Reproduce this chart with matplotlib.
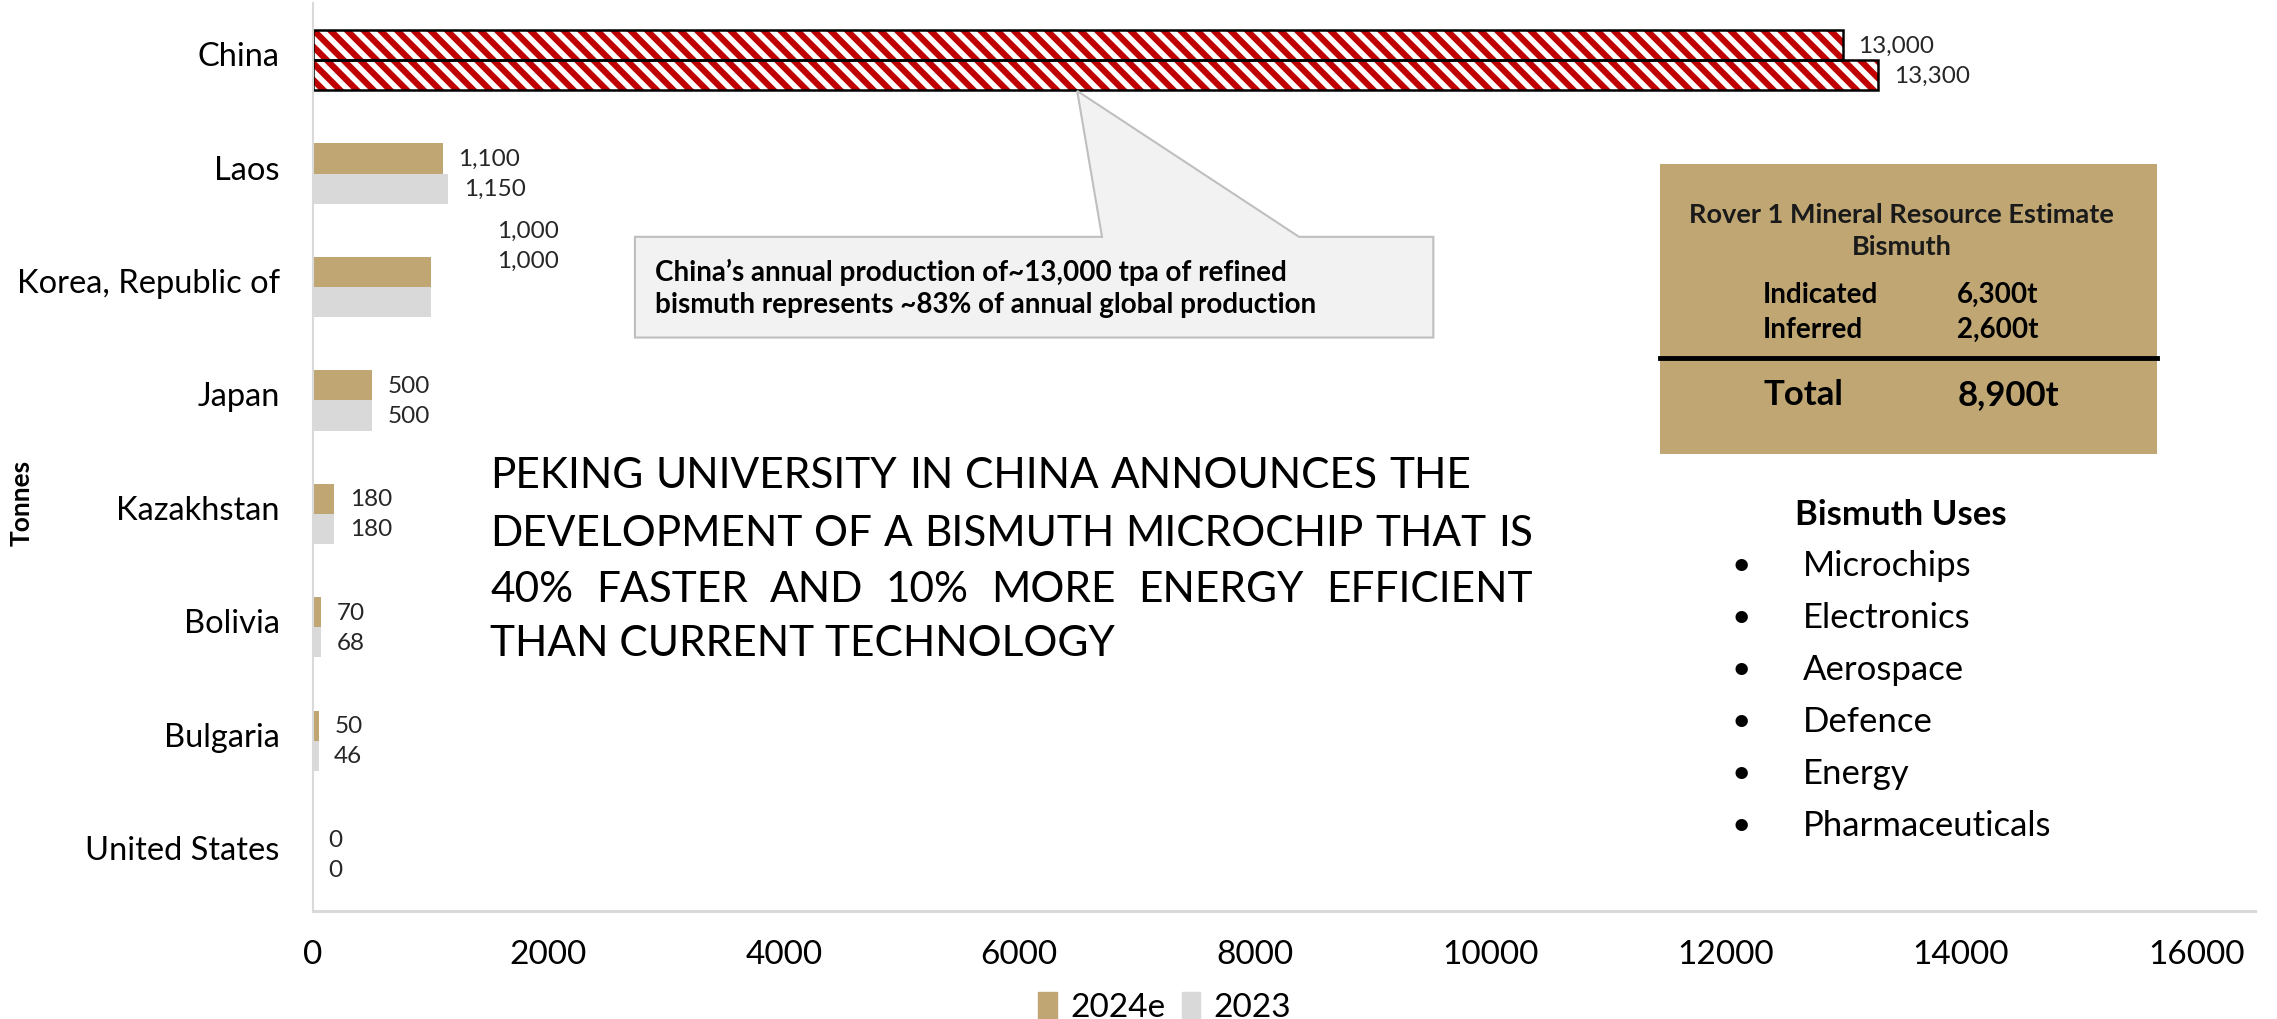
import matplotlib
matplotlib.use('Agg')
import matplotlib.pyplot as plt
from matplotlib.patches import Polygon, Rectangle, Patch
from matplotlib.transforms import ScaledTranslation
import numpy as np

plt.rcParams['font.family'] = ['Lato', 'DejaVu Sans']
plt.rcParams['hatch.linewidth'] = 4.5

# data
countries = ['China', 'Laos', 'Korea, Republic of', 'Japan', 'Kazakhstan',
             'Bolivia', 'Bulgaria', 'United States']
prod_2024e = [13000, 1100, 1000, 500, 180, 70, 50, 0]
prod_2023 = [13300, 1150, 1000, 500, 180, 68, 46, 0]

xticks = [0, 2000, 4000, 6000, 8000, 10000, 12000, 14000, 16000]

mre_rows = [('Indicated', '6,300t'), ('Inferred', '2,600t')]
mre_total = ('Total', '8,900t')
uses = ['Microchips', 'Electronics', 'Aerospace', 'Defence', 'Energy',
        'Pharmaceuticals']

headline = ['PEKING UNIVERSITY IN CHINA ANNOUNCES THE',
            'DEVELOPMENT OF A BISMUTH MICROCHIP THAT IS',
            '40% FASTER AND 10% MORE ENERGY EFFICIENT',
            'THAN CURRENT TECHNOLOGY']

TAN = '#BFA672'
GREY = '#D9D9D9'
RED = '#C00000'

# layout helpers: positions measured on a 1560x699 view of the target
W, H = 1560.0, 699.0
def fx(x):
    return x / W
def fy(y):
    return 1 - y / H

fig = plt.figure(figsize=(22.77, 10.20), dpi=100)
ax = fig.add_axes([fx(214.5), fy(625), fx(1545) - fx(214.5), fy(3) - fy(625)])

y = np.arange(len(countries))
h = 0.265
b1 = ax.barh(y - h / 2, prod_2024e, height=h, color=TAN, linewidth=0)
b2 = ax.barh(y + h / 2, prod_2023, height=h, color=GREY, linewidth=0)

# China bars: red hatch with black outline
for b in (b1[0], b2[0]):
    b.set_facecolor('white')
    b.set_edgecolor(RED)
    b.set_hatch('\\\\')
ax.barh([y[0] - h / 2, y[0] + h / 2], [prod_2024e[0], prod_2023[0]], height=h,
        fill=False, edgecolor='black', linewidth=1.8)

# data labels
for i in range(len(countries)):
    dx, dy = 11, 0
    if countries[i].startswith('Korea'):
        dx, dy = 48, 30
    ax.annotate(f'{prod_2024e[i]:,}', (prod_2024e[i], y[i] - h / 2),
                xytext=(dx, dy), textcoords='offset points',
                va='center', ha='left', fontsize=17.5, color='#262626')
    ax.annotate(f'{prod_2023[i]:,}', (prod_2023[i], y[i] + h / 2),
                xytext=(dx, dy), textcoords='offset points',
                va='center', ha='left', fontsize=17.5, color='#262626')

ax.set_ylim(len(countries) - 0.5, -0.5)
ax.set_xlim(0, 16500)
ax.set_yticks(y)
ax.set_yticklabels(countries, fontsize=23.5)
ax.set_xticks(xticks)
ax.set_xticklabels([str(t) for t in xticks], fontsize=24)
ax.tick_params(axis='both', length=0)
ax.tick_params(axis='x', pad=20)
ax.tick_params(axis='y', pad=24)
for lab in ax.get_yticklabels():
    lab.set_transform(lab.get_transform() + ScaledTranslation(0, 0.07, fig.dpi_scale_trans))
for s in ('top', 'right'):
    ax.spines[s].set_visible(False)
ax.spines['left'].set_color(GREY)
ax.spines['left'].set_linewidth(1.5)
ax.spines['bottom'].set_color(GREY)
ax.spines['bottom'].set_linewidth(2.2)

fig.text(fx(15), fy(345), 'Tonnes', rotation=90, ha='center', va='center',
         fontsize=19, fontweight='bold')

# legend
fig.legend(handles=[Patch(color=TAN, label='2024e'), Patch(color=GREY, label='2023')],
           loc='center', bbox_to_anchor=(fx(798), fy(691)), ncol=2, frameon=False,
           fontsize=24, handlelength=0.55, handleheight=0.8, handletextpad=0.4,
           columnspacing=0.5)

# callout box with pointer to the China bar
pts = [(435, 163), (755, 163), (738, 63), (890, 163), (982, 163), (982, 232), (435, 232)]
fig.patches.append(Polygon([(fx(a), fy(b)) for a, b in pts], closed=True,
                           transform=fig.transFigure, facecolor='#F2F2F2',
                           edgecolor='#BFBFBF', linewidth=1.5, zorder=5))
fig.text(fx(449), fy(187), 'China\u2019s annual production of~13,000 tpa of refined',
         fontsize=20, fontweight='bold', va='center', ha='left', zorder=6)
fig.text(fx(449), fy(209), 'bismuth represents ~83% of annual global production',
         fontsize=20, fontweight='bold', va='center', ha='left', zorder=6)

# headline text, justified by hand
fig.canvas.draw()
renderer = fig.canvas.get_renderer()
line_y = [326, 366, 404, 441]
line_end = [1008, 1050, 1050, None]
for line, ly, le in zip(headline, line_y, line_end):
    if le is None:
        fig.text(fx(336), fy(ly), line, fontsize=30.5, va='center', ha='left')
        continue
    words = line.split()
    texts = [fig.text(0, fy(ly), w, fontsize=30.5, va='center', ha='left') for w in words]
    widths = [t.get_window_extent(renderer).width for t in texts]
    x0 = fx(336) * fig.bbox.width
    x1 = fx(le) * fig.bbox.width
    gap = (x1 - x0 - sum(widths)) / (len(words) - 1)
    xpos = x0
    for t, wd in zip(texts, widths):
        t.set_x(xpos / fig.bbox.width)
        xpos += wd + gap

# mineral resource estimate box
fig.patches.append(Rectangle((fx(1137), fy(312)), fx(1478) - fx(1137), fy(113) - fy(312),
                             transform=fig.transFigure, facecolor=TAN, edgecolor='none'))
fig.text(fx(1303), fy(147), 'Rover 1 Mineral Resource Estimate', ha='center', va='center',
         fontsize=19.5, fontweight='bold', color='#1a1a1a')
fig.text(fx(1303), fy(169), 'Bismuth', ha='center', va='center',
         fontsize=19.5, fontweight='bold', color='#1a1a1a')
for (lab, val), ry in zip(mre_rows, [202, 226]):
    fig.text(fx(1208), fy(ry), lab, ha='left', va='center', fontsize=20, fontweight='bold')
    fig.text(fx(1341), fy(ry), val, ha='left', va='center', fontsize=20, fontweight='bold')
fig.add_artist(plt.Line2D([fx(1137), fx(1478)], [fy(246), fy(246)], color='black',
                          linewidth=3.5, transform=fig.transFigure))
fig.text(fx(1208), fy(271), mre_total[0], ha='left', va='center', fontsize=25, fontweight='bold')
fig.text(fx(1341), fy(271), mre_total[1], ha='left', va='center', fontsize=25, fontweight='bold')

# bismuth uses list
fig.text(fx(1302), fy(353), 'Bismuth Uses', ha='center', va='center', fontsize=25,
         fontweight='bold')
for k, u in enumerate(uses):
    uy = 388 + k * 35.6
    fig.text(fx(1193), fy(uy), '\u2022', ha='center', va='center', fontsize=24)
    fig.text(fx(1235), fy(uy), u, ha='left', va='center', fontsize=25)

fig.savefig('out.png', dpi=100)
